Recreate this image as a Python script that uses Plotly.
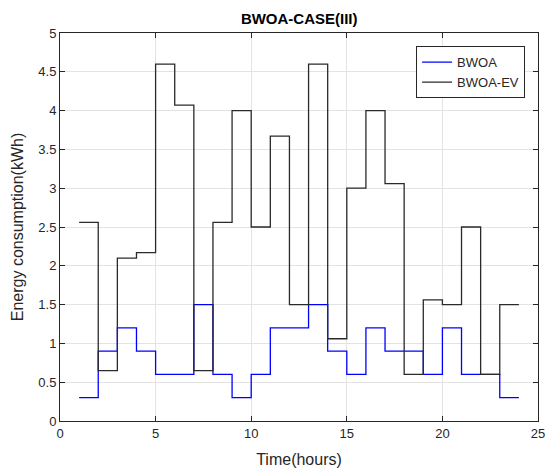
import plotly.graph_objects as go

# Hourly energy consumption (kWh), one value per hour
hours = list(range(1, 25))
bwoa = [0.3, 0.9, 1.2, 0.9, 0.6, 0.6, 1.5, 0.6, 0.3, 0.6, 1.2, 1.2,
        1.5, 0.9, 0.6, 1.2, 0.9, 0.9, 0.6, 1.2, 0.6, 0.6, 0.3, 0.3]
bwoa_ev = [2.56, 0.65, 2.1, 2.17, 4.6, 4.07, 0.65, 2.56, 4.0, 2.5, 3.67, 1.5,
           4.6, 1.06, 3.0, 4.0, 3.06, 0.6, 1.56, 1.5, 2.5, 0.6, 1.5, 1.5]

x_ticks = [0, 5, 10, 15, 20, 25]
y_ticks = [0, 0.5, 1, 1.5, 2, 2.5, 3, 3.5, 4, 4.5, 5]
y_tick_text = ["0", "0.5", "1", "1.5", "2", "2.5", "3", "3.5", "4", "4.5", "5"]

FONT = "Liberation Sans, Arial, Helvetica, sans-serif"
AXIS_COLOR = "#262626"
GRID_COLOR = "#e3e3e3"

fig = go.Figure()
fig.add_trace(go.Scatter(
    x=hours, y=bwoa, name="BWOA", mode="lines",
    line=dict(color="#0000ff", width=1.3, shape="hv"),
))
fig.add_trace(go.Scatter(
    x=hours, y=bwoa_ev, name="BWOA-EV", mode="lines",
    line=dict(color="#2a2a2a", width=1.3, shape="hv"),
))

axis_common = dict(
    showgrid=True, gridcolor=GRID_COLOR, gridwidth=1,
    showline=True, linecolor=AXIS_COLOR, linewidth=1, mirror="ticks",
    ticks="inside", ticklen=5, tickcolor=AXIS_COLOR, tickwidth=1,
    zeroline=False, automargin=False,
    tickfont=dict(family=FONT, size=13, color=AXIS_COLOR),
)

fig.update_layout(
    width=546, height=470,
    paper_bgcolor="white", plot_bgcolor="white",
    margin=dict(l=60, r=8, t=33, b=49),
    title=dict(
        text="<b>BWOA-CASE(III)</b>", x=0.548, xanchor="center",
        y=0.96, yanchor="middle",
        font=dict(family=FONT, size=15, color="#000000"),
    ),
    xaxis=dict(
        range=[0, 25], tickvals=x_ticks,
        title=dict(text="Time(hours)", standoff=14,
                   font=dict(family=FONT, size=16, color=AXIS_COLOR)),
        **axis_common,
    ),
    yaxis=dict(
        range=[0, 5], tickvals=y_ticks, ticktext=y_tick_text,
        title=dict(text="Energy consumption(kWh)", standoff=10,
                   font=dict(family=FONT, size=16, color=AXIS_COLOR)),
        **axis_common,
    ),
    legend=dict(
        x=0.973, y=0.966, xanchor="right", yanchor="top",
        bgcolor="white", bordercolor=AXIS_COLOR, borderwidth=1,
        font=dict(family=FONT, size=13, color=AXIS_COLOR),
        tracegroupgap=0,
    ),
    showlegend=True,
)

fig.write_html("out.html")
